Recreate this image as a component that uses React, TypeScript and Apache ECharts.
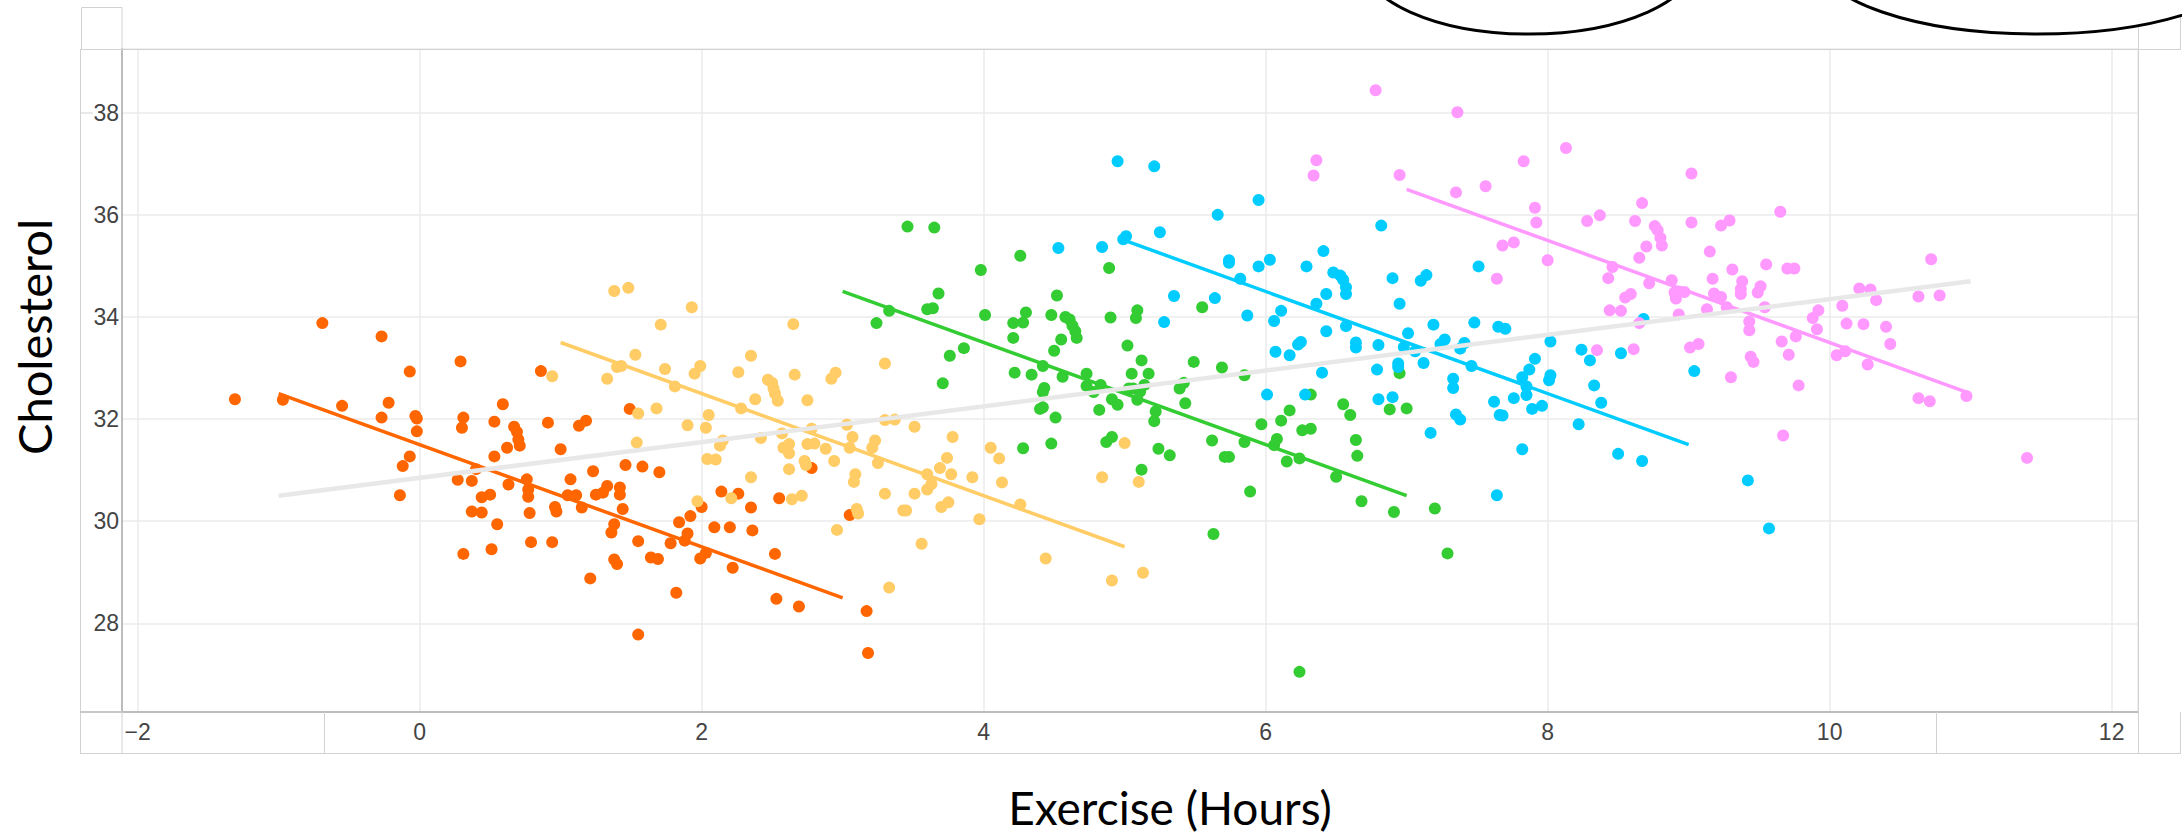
import React, { useEffect, useRef } from "react";
import * as echarts from "echarts";

// ---------- data ----------
const orangePoints: number[][] = [
  [-1.31, 32.39], [-0.97, 32.38], [-0.69, 33.88], [-0.55, 32.26], [-0.27, 33.62], [-0.22, 32.32], [-0.27, 32.03],
  [-0.07, 32.93], [-0.03, 32.06], [-0.02, 32.01], [-0.02, 31.76], [-0.07, 31.27], [-0.12, 31.08], [-0.14, 30.51],
  [0.29, 33.13], [0.31, 32.03], [0.30, 31.83], [0.27, 30.81], [0.37, 30.79], [0.53, 31.95], [0.59, 32.29],
  [0.53, 31.27], [0.62, 31.44], [0.67, 31.85], [0.69, 31.75], [0.70, 31.60], [0.71, 31.48], [0.86, 32.94],
  [0.91, 31.93], [1.00, 31.41], [1.13, 31.87], [1.18, 31.97], [1.49, 32.20], [1.46, 31.10], [1.58, 31.07],
  [1.70, 30.96], [1.23, 30.98], [0.40, 31.02], [0.63, 30.72], [0.76, 30.82], [0.77, 30.62], [0.77, 30.48],
  [0.44, 30.47], [0.50, 30.52], [0.37, 30.19], [0.44, 30.17], [0.55, 29.94], [0.78, 30.16], [0.31, 29.36],
  [0.51, 29.45], [0.79, 29.59], [0.94, 29.59], [0.96, 30.28], [0.97, 30.19], [1.07, 30.82], [1.05, 30.51],
  [1.11, 30.51], [1.15, 30.27], [1.25, 30.52], [1.30, 30.56], [1.33, 30.69], [1.42, 30.66], [1.42, 30.52],
  [1.44, 30.24], [1.38, 29.94], [1.36, 29.78], [1.21, 28.88], [1.38, 29.25], [1.40, 29.16], [1.55, 29.61],
  [1.64, 29.29], [1.69, 29.26], [1.55, 27.78], [1.78, 29.57], [1.84, 29.98], [1.88, 29.62], [1.90, 29.76],
  [1.92, 30.10], [2.00, 30.28], [1.99, 29.27], [2.03, 29.38], [1.82, 28.60], [2.09, 29.88], [2.20, 29.88],
  [2.14, 30.58], [2.26, 30.54], [2.35, 30.27], [2.36, 29.82], [2.22, 29.09], [2.52, 29.36], [2.53, 28.48],
  [2.55, 30.45], [2.69, 28.33], [2.78, 31.04], [3.05, 30.12], [3.17, 28.24], [3.18, 27.42],
];

const yellowPoints: number[][] = [
  [0.94, 32.84], [1.38, 34.51], [1.48, 34.57], [1.33, 32.79], [1.40, 33.02], [1.43, 33.04], [1.53, 33.26],
  [1.71, 33.85], [1.74, 32.98], [1.81, 32.64], [1.93, 34.19], [1.95, 32.89], [1.99, 33.04], [1.55, 32.11],
  [1.68, 32.21], [1.54, 31.54], [1.90, 31.88], [2.05, 32.08], [2.03, 31.83], [2.13, 31.48], [2.15, 31.58],
  [2.04, 31.22], [2.10, 31.21], [1.97, 30.39], [2.21, 30.45], [2.35, 30.86], [2.26, 32.92], [2.28, 32.21],
  [2.35, 33.24], [2.38, 32.39], [2.47, 32.77], [2.50, 32.71], [2.51, 32.60], [2.52, 32.50], [2.54, 32.36],
  [2.42, 31.63], [2.57, 31.72], [2.62, 31.51], [2.58, 31.44], [2.62, 31.33], [2.62, 31.02], [2.64, 30.43],
  [2.65, 33.86], [2.66, 32.87], [2.75, 32.37], [2.92, 32.79], [2.95, 32.91], [3.30, 33.09], [2.78, 31.81],
  [2.75, 31.51], [2.80, 31.52], [2.88, 31.42], [3.03, 31.89], [3.07, 31.65], [3.05, 31.44], [3.21, 31.44],
  [3.23, 31.58], [3.25, 31.14], [2.94, 31.18], [3.30, 31.98], [3.37, 31.99], [3.51, 31.85], [3.78, 31.65],
  [2.73, 31.18], [2.74, 31.10], [3.09, 30.92], [3.08, 30.77], [3.30, 30.54], [3.51, 30.54], [3.60, 30.92],
  [3.63, 30.73], [3.60, 30.62], [3.69, 31.04], [3.74, 31.24], [3.77, 30.92], [3.92, 30.86], [4.05, 31.44],
  [4.11, 31.23], [4.13, 30.76], [4.26, 30.33], [3.97, 30.04], [3.70, 30.28], [3.75, 30.37], [3.43, 30.21],
  [3.45, 30.21], [3.10, 30.24], [3.11, 30.15], [2.71, 30.50], [2.96, 29.83], [3.56, 29.56], [3.33, 28.70],
  [4.44, 29.27], [4.91, 28.84], [5.13, 28.99], [4.84, 30.86], [5.10, 30.77], [5.00, 31.53],
];

const greenPoints: number[][] = [
  [3.46, 35.77], [3.65, 35.75], [4.26, 35.20], [3.98, 34.92], [3.68, 34.46], [3.60, 34.15], [3.64, 34.17],
  [3.33, 34.12], [3.24, 33.88], [4.01, 34.04], [3.76, 33.24], [3.86, 33.39], [3.71, 32.70], [4.21, 33.88],
  [4.28, 33.89], [4.30, 34.09], [4.21, 33.59], [4.48, 34.04], [4.52, 34.42], [4.58, 34.00], [4.61, 33.95],
  [4.63, 33.83], [4.65, 33.72], [4.66, 33.59], [4.55, 33.56], [4.50, 33.34], [4.89, 34.96], [4.90, 33.99],
  [5.09, 34.13], [5.08, 33.98], [5.02, 33.44], [5.12, 33.15], [5.05, 32.89], [5.17, 32.89], [5.55, 34.19],
  [5.49, 33.12], [5.69, 33.01], [5.85, 32.86], [4.22, 32.91], [4.34, 32.87], [4.42, 33.04], [4.56, 32.83],
  [4.43, 32.61], [4.42, 32.53], [4.42, 32.23], [4.40, 32.20], [4.51, 32.03], [4.73, 32.89], [4.73, 32.65],
  [4.78, 32.53], [4.83, 32.67], [4.91, 32.39], [4.95, 32.28], [4.82, 32.18], [5.03, 32.60], [5.06, 32.60],
  [5.11, 32.54], [5.14, 32.67], [5.09, 32.38], [5.22, 32.15], [5.21, 31.96], [5.39, 32.60], [5.42, 32.71],
  [5.43, 32.31], [4.87, 31.55], [4.91, 31.65], [4.28, 31.43], [4.48, 31.52], [5.24, 31.42], [5.32, 31.29],
  [5.12, 31.01], [5.62, 31.58], [5.71, 31.26], [5.74, 31.26], [5.85, 31.55], [5.89, 30.58], [5.63, 29.75],
  [5.97, 31.90], [6.11, 31.97], [6.17, 32.17], [6.08, 31.61], [6.06, 31.49], [6.15, 31.17], [6.24, 31.23],
  [6.26, 31.78], [6.32, 31.81], [6.32, 32.48], [6.50, 30.87], [6.55, 32.29], [6.60, 32.08], [6.64, 31.59],
  [6.65, 31.28], [6.68, 30.39], [6.91, 30.18], [6.88, 32.19], [6.95, 32.90], [7.00, 32.21], [7.20, 30.25],
  [7.29, 29.37], [6.24, 27.05],
];

const bluePoints: number[][] = [
  [4.95, 37.05], [5.21, 36.95], [5.95, 36.29], [5.66, 36.00], [5.25, 35.66], [4.99, 35.52], [5.01, 35.58],
  [4.53, 35.35], [4.84, 35.37], [5.74, 35.11], [5.74, 35.06], [5.95, 34.99], [6.03, 35.12], [5.82, 34.75],
  [5.35, 34.41], [5.64, 34.37], [5.28, 33.90], [5.87, 34.03], [6.11, 34.12], [6.06, 33.92], [6.29, 34.99],
  [6.41, 35.29], [6.48, 34.87], [6.53, 34.81], [6.55, 34.73], [6.57, 34.58], [6.57, 34.45], [6.43, 34.45],
  [6.36, 34.26], [6.82, 35.79], [6.90, 34.76], [6.95, 34.26], [6.43, 33.72], [6.57, 33.82], [6.64, 33.50],
  [6.64, 33.40], [6.80, 33.45], [6.79, 32.97], [6.40, 32.91], [6.25, 33.51], [6.23, 33.46], [6.17, 33.25],
  [6.07, 33.32], [6.01, 32.48], [6.28, 32.48], [6.80, 32.39], [6.90, 32.43], [6.94, 33.09], [7.10, 34.71],
  [7.14, 34.82], [7.51, 34.99], [7.19, 33.85], [7.48, 33.89], [7.65, 33.81], [7.70, 33.77], [7.01, 33.68],
  [6.98, 33.41], [7.06, 33.33], [7.27, 33.56], [7.24, 33.47], [7.41, 33.49], [7.38, 33.38], [7.12, 33.10],
  [7.46, 33.04], [6.94, 33.02], [8.02, 33.52], [7.91, 33.18], [7.87, 32.97], [7.82, 32.82], [7.85, 32.64],
  [7.85, 32.47], [8.02, 32.86], [8.01, 32.76], [8.24, 33.36], [8.30, 33.15], [8.52, 33.29], [8.68, 33.96],
  [8.33, 32.66], [8.38, 32.32], [7.33, 32.79], [7.33, 32.61], [7.62, 32.34], [7.76, 32.41], [7.89, 32.20],
  [7.96, 32.26], [7.35, 32.09], [7.38, 31.99], [7.66, 32.08], [7.68, 32.07], [7.17, 31.73], [8.22, 31.90],
  [7.82, 31.41], [8.50, 31.32], [8.67, 31.18], [7.64, 30.51], [9.04, 32.94], [9.42, 30.80], [9.57, 29.86],
];

const pinkPoints: number[][] = [
  [6.78, 38.44], [7.36, 38.01], [6.95, 36.78], [8.13, 37.31], [7.83, 37.05], [7.35, 36.44], [7.56, 36.56],
  [7.91, 36.14], [7.92, 35.85], [9.02, 36.81], [8.67, 36.23], [8.28, 35.88], [8.37, 35.99], [8.62, 35.88],
  [8.76, 35.78], [8.78, 35.70], [8.80, 35.55], [8.81, 35.40], [9.02, 35.85], [9.23, 35.79], [9.29, 35.89],
  [9.65, 36.06], [7.68, 35.40], [7.76, 35.46], [8.00, 35.11], [8.70, 35.38], [8.65, 35.16], [9.15, 35.28],
  [7.64, 34.75], [8.46, 34.98], [8.43, 34.76], [8.72, 34.66], [8.88, 34.72], [8.90, 34.48], [8.91, 34.36],
  [8.97, 34.49], [8.93, 34.50], [9.17, 34.75], [9.31, 34.93], [9.55, 35.03], [9.70, 34.95], [9.75, 34.95],
  [9.38, 34.70], [9.37, 34.55], [9.37, 34.45], [9.51, 34.60], [9.49, 34.48], [9.18, 34.46], [9.23, 34.39],
  [10.72, 35.13], [8.55, 34.38], [8.59, 34.45], [8.44, 34.13], [8.52, 34.12], [8.93, 34.05], [9.13, 34.15],
  [9.27, 34.19], [9.54, 34.19], [9.43, 33.91], [9.43, 33.74], [8.65, 33.88], [8.35, 33.35], [8.61, 33.37],
  [9.01, 33.40], [9.07, 33.47], [9.44, 33.22], [9.46, 33.12], [9.30, 32.82], [9.66, 33.52], [9.71, 33.26],
  [9.76, 33.62], [9.88, 33.98], [9.92, 34.13], [9.91, 33.76], [9.78, 32.66], [9.67, 31.68], [10.09, 34.22],
  [10.12, 33.87], [10.24, 33.86], [10.21, 34.56], [10.29, 34.54], [10.33, 34.33], [10.40, 33.81], [10.43, 33.47],
  [10.63, 34.40], [10.78, 34.42], [10.05, 33.25], [10.11, 33.33], [10.27, 33.07], [10.63, 32.41], [10.71, 32.35],
  [10.97, 32.45], [11.40, 31.24], [6.36, 37.07], [6.34, 36.77],
];

// fitted lines (end points)
const orangeFit: number[][] = [[-1, 32.5], [3, 28.5]];
const yellowFit: number[][] = [[1, 33.5], [5, 29.5]];
const greenFit: number[][] = [[3, 34.5], [7, 30.5]];
const blueFit: number[][] = [[5, 35.5], [9, 31.5]];
const pinkFit: number[][] = [[7, 36.5], [11, 32.5]];
const overallFit: number[][] = [[-1, 30.5], [11, 34.7]];

const xRange = [-2.111, 12.187];
const yRange = [26.264, 39.248];

const xTitle = "Exercise (Hours)";
const yTitle = "Cholesterol";

const COLORS = {
  orange: "#ff6600",
  yellow: "#ffcc66",
  green: "#33cc33",
  blue: "#00ccff",
  pink: "#ff99ff",
  gray: "#e8e8e8",
};

const fmtTick = (v: number) => {
  if (Math.abs(v - Math.round(v)) > 1e-6) return "";
  const r = Math.round(v);
  return r < 0 ? "\u2212" + Math.abs(r) : String(r);
};

export default function App() {
  const ref = useRef<HTMLDivElement>(null);

  useEffect(() => {
    if (!ref.current) return;
    const chart = echarts.init(ref.current, null, { renderer: "svg" });

    const box = "#d2d2d2";
    const ln = (x1: number, y1: number, x2: number, y2: number, stroke = box, w = 1) => ({
      type: "line",
      shape: { x1, y1, x2, y2 },
      style: { stroke, lineWidth: w },
      silent: true,
      z: 50,
    });

    const scatter = (name: string, data: number[][], color: string) => ({
      name,
      type: "scatter",
      data,
      symbol: "circle",
      symbolSize: 12,
      itemStyle: { color, opacity: 1 },
      z: 2,
    });
    const fit = (name: string, data: number[][], color: string, width = 3.5) => ({
      name,
      type: "line",
      data,
      symbol: "none",
      showSymbol: false,
      lineStyle: { color, width },
      z: 3,
    });

    chart.setOption({
      animation: false,
      backgroundColor: "#ffffff",
      grid: { left: 122, top: 49, right: 44, bottom: 121, containLabel: false },
      xAxis: {
        type: "value",
        min: xRange[0],
        max: xRange[1],
        splitNumber: 7,
        axisLine: { show: true, onZero: false, lineStyle: { color: "#bcbcbc", width: 2 } },
        axisTick: { show: false },
        splitLine: { show: true, lineStyle: { color: "#ebebeb", width: 1.5 } },
        axisLabel: {
          formatter: fmtTick,
          fontSize: 23,
          color: "#444444",
          margin: 8,
          fontFamily: "Liberation Sans, Arial, sans-serif",
          showMinLabel: false,
          showMaxLabel: false,
        },
      },
      yAxis: {
        type: "value",
        min: yRange[0],
        max: yRange[1],
        splitNumber: 6,
        axisLine: { show: true, onZero: false, lineStyle: { color: "#bcbcbc", width: 2 } },
        axisTick: { show: false },
        splitLine: { show: true, lineStyle: { color: "#ebebeb", width: 1.5 } },
        axisLabel: {
          formatter: fmtTick,
          fontSize: 23,
          color: "#444444",
          margin: 3,
          fontFamily: "Liberation Sans, Arial, sans-serif",
          showMinLabel: false,
          showMaxLabel: false,
        },
      },
      series: [
        scatter("0", orangePoints, COLORS.orange),
        scatter("1", yellowPoints, COLORS.yellow),
        scatter("2", greenPoints, COLORS.green),
        scatter("3", bluePoints, COLORS.blue),
        scatter("4", pinkPoints, COLORS.pink),
        fit("fit0", orangeFit, COLORS.orange),
        fit("fit1", yellowFit, COLORS.yellow),
        fit("fit2", greenFit, COLORS.green),
        fit("fit3", blueFit, COLORS.blue),
        fit("fit4", pinkFit, COLORS.pink),
        fit("fitAll", overallFit, COLORS.gray, 4.5),
      ],
      graphic: {
        elements: [
          // frame / drag boxes
          ln(81, 49.5, 2181, 49.5),
          { type: "rect", shape: { x: 81.5, y: 7.5, width: 40.5, height: 42 }, style: { fill: "none", stroke: box, lineWidth: 1 }, silent: true, z: 50 },
          { type: "rect", shape: { x: 2138.5, y: 7.5, width: 42, height: 42 }, style: { fill: "none", stroke: box, lineWidth: 1 }, silent: true, z: 50 },
          ln(80.5, 49, 80.5, 753),
          ln(80, 753.5, 2181, 753.5),
          ln(2180.5, 712, 2180.5, 753),
          ln(2138.5, 49, 2138.5, 753),
          ln(122, 712, 122, 753),
          ln(324.5, 712, 324.5, 753),
          ln(1936.5, 712, 1936.5, 753),
          ln(80, 712, 122, 712, "#c8c8c8", 2),
          ln(80, 113, 93, 113),
          // ellipses at the top
          {
            type: "ellipse",
            shape: { cx: 1529, cy: -41, rx: 168, ry: 75 },
            style: { fill: "#ffffff", stroke: "#000000", lineWidth: 3 },
            silent: true,
            z: 60,
          },
          {
            type: "ellipse",
            shape: { cx: 2037, cy: -41, rx: 219, ry: 75 },
            style: { fill: "#ffffff", stroke: "#000000", lineWidth: 3 },
            silent: true,
            z: 60,
          },
          // axis titles
          {
            type: "text",
            x: 1170,
            y: 807,
            style: {
              text: xTitle,
              fontSize: 46,
              lineHeight: 40,
              fontFamily: "Lato, 'Open Sans', sans-serif",
              fill: "#000000",
              align: "center",
              verticalAlign: "middle",
            },
            silent: true,
            z: 60,
          },
          {
            type: "text",
            x: 34,
            y: 337,
            rotation: Math.PI / 2,
            style: {
              text: yTitle,
              fontSize: 47,
              fontFamily: "Lato, 'Open Sans', sans-serif",
              fill: "#000000",
              align: "center",
              verticalAlign: "middle",
            },
            silent: true,
            z: 60,
          },
        ],
      },
    });

    return () => chart.dispose();
  }, []);

  return (
    <div
      ref={ref}
      style={{ position: "absolute", left: 0, top: 0, width: 2182, height: 833, background: "#ffffff" }}
    />
  );
}
